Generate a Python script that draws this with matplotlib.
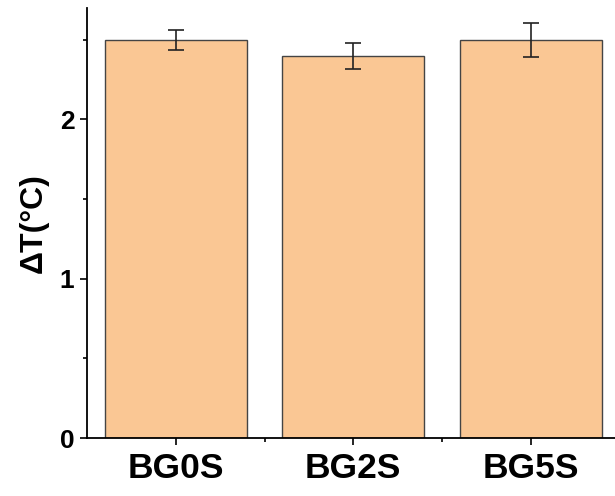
import matplotlib.pyplot as plt
from matplotlib.ticker import MultipleLocator, FixedLocator

samples = ["BG0S", "BG2S", "BG5S"]
delta_t = [2.50, 2.40, 2.50]
errors = [0.065, 0.08, 0.105]

plt.rcParams['font.family'] = ['Liberation Sans', 'DejaVu Sans']
plt.rcParams['font.weight'] = 'bold'

fig = plt.figure(figsize=(6.15, 4.96), dpi=100)
ax = fig.add_axes([87 / 615, 58 / 496, 532.5 / 615, 430 / 496])

x = list(range(len(samples)))
ax.bar(x, delta_t, width=0.8, color='#FAC794', edgecolor='#444444', linewidth=1.0,
       yerr=errors, error_kw=dict(ecolor='#222222', elinewidth=1.2, capsize=6, capthick=1.2))

ax.set_xlim(-0.5, 2.5)
ax.set_ylim(0, 2.7)
ax.set_xticks(x)
ax.set_xticklabels(samples, fontsize=25.5, fontweight='bold')
ax.xaxis.set_minor_locator(FixedLocator([0.5, 1.5]))
ax.yaxis.set_major_locator(MultipleLocator(1))
ax.yaxis.set_minor_locator(MultipleLocator(0.5))
for lab in ax.get_yticklabels():
    lab.set_fontsize(19)
    lab.set_fontweight('bold')
ax.tick_params(which='major', direction='out', length=5, width=1.2, pad=4)
ax.tick_params(which='minor', direction='out', length=3, width=1.2)
ax.tick_params(axis='x', which='major', pad=5)
ax.set_ylabel('ΔT(°C)', fontsize=23, fontweight='bold', labelpad=8)

ax.spines['top'].set_visible(False)
ax.spines['right'].set_visible(False)
ax.spines['left'].set_linewidth(1.3)
ax.spines['bottom'].set_linewidth(1.3)

fig.savefig('out.png', dpi=100)
